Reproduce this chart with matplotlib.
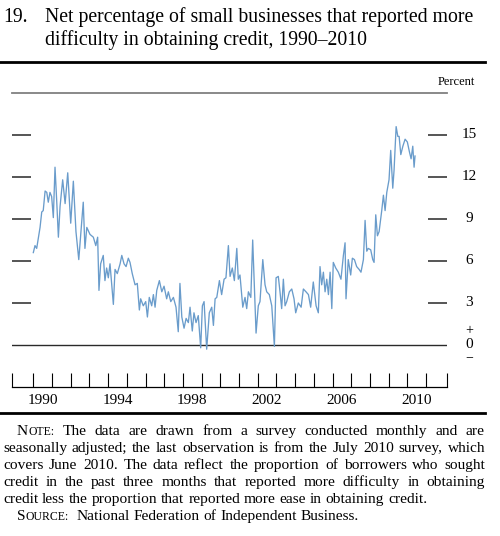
import matplotlib
matplotlib.use('Agg')
import matplotlib.pyplot as plt
from matplotlib.lines import Line2D
from matplotlib.transforms import blended_transform_factory

# monthly survey readings (decimal year, net percent)
dates = [1990.00, 1990.09, 1990.18, 1990.36, 1990.45, 1990.53, 1990.63, 1990.72, 1990.80, 1990.89,
         1990.98, 1991.07, 1991.16, 1991.25, 1991.34, 1991.43, 1991.57, 1991.70, 1991.84, 1992.00,
         1992.14, 1992.28, 1992.43, 1992.53, 1992.67, 1992.76, 1992.86, 1993.03, 1993.21, 1993.34,
         1993.44, 1993.51, 1993.60, 1993.74, 1993.83, 1993.92, 1994.01, 1994.10, 1994.28, 1994.37,
         1994.49, 1994.64, 1994.73, 1994.85, 1994.96, 1995.08, 1995.17, 1995.29, 1995.44, 1995.56,
         1995.67, 1995.74, 1995.88, 1996.01, 1996.10, 1996.20, 1996.33, 1996.42, 1996.51, 1996.60,
         1996.74, 1996.87, 1996.99, 1997.13, 1997.22, 1997.35, 1997.49, 1997.63, 1997.75, 1997.84,
         1997.94, 1998.06, 1998.17, 1998.29, 1998.38, 1998.50, 1998.59, 1998.70, 1998.82, 1998.95,
         1999.04, 1999.13, 1999.27, 1999.41, 1999.54, 1999.63, 1999.72, 1999.81, 1999.95, 2000.07,
         2000.20, 2000.30, 2000.43, 2000.52, 2000.64, 2000.75, 2000.88, 2000.96, 2001.05, 2001.20,
         2001.32, 2001.41, 2001.50, 2001.63, 2001.73, 2001.80, 2001.91, 2002.03, 2002.12, 2002.27,
         2002.39, 2002.48, 2002.62, 2002.75, 2002.89, 2002.98, 2003.10, 2003.19, 2003.28, 2003.37,
         2003.46, 2003.55, 2003.69, 2003.82, 2003.94, 2004.03, 2004.17, 2004.32, 2004.44, 2004.58,
         2004.71, 2004.83, 2004.97, 2005.12, 2005.24, 2005.33, 2005.42, 2005.51, 2005.60, 2005.69,
         2005.78, 2005.87, 2005.96, 2006.04, 2006.17, 2006.31, 2006.45, 2006.58, 2006.67, 2006.72,
         2006.84, 2006.97, 2007.06, 2007.17, 2007.29, 2007.42, 2007.52, 2007.65, 2007.74, 2007.83,
         2007.91, 2008.04, 2008.15, 2008.22, 2008.31, 2008.40, 2008.49, 2008.63, 2008.72, 2008.81,
         2008.90, 2009.02, 2009.11, 2009.22, 2009.29, 2009.40, 2009.49, 2009.56, 2009.65, 2009.76,
         2009.88, 2010.00, 2010.11, 2010.20, 2010.29, 2010.36, 2010.41]
values = [6.6, 7.1, 6.9, 8.4, 9.5, 9.6, 11.0, 10.9, 10.2, 10.9,
          10.6, 9.1, 12.7, 10.3, 7.7, 9.9, 11.8, 10.1, 12.3, 8.7,
          11.7, 8.1, 6.1, 7.8, 10.2, 6.9, 8.4, 7.9, 7.7, 7.1,
          7.7, 3.9, 5.8, 6.4, 4.6, 5.5, 4.8, 5.8, 2.9, 5.4,
          5.1, 5.8, 6.4, 5.8, 5.6, 6.2, 5.9, 5.1, 4.3, 4.4,
          2.5, 3.3, 2.8, 3.1, 2.0, 3.4, 2.8, 3.6, 2.7, 3.9,
          4.6, 3.8, 4.2, 3.3, 3.8, 3.1, 3.4, 2.7, 0.95, 4.4,
          2.0, 1.2, 1.9, 1.6, 2.7, 1.0, 2.3, 1.6, 2.1, -0.2,
          2.8, 3.1, -0.3, 2.3, 2.7, 1.4, 3.3, 3.4, 4.6, 3.6,
          4.7, 4.8, 7.1, 4.9, 5.5, 4.6, 6.9, 4.7, 5.0, 2.7,
          3.4, 2.6, 3.8, 3.4, 7.5, 4.9, 0.85, 2.8, 3.1, 6.1,
          4.3, 3.8, 3.6, 2.8, -0.1, 4.8, 4.9, 3.8, 2.6, 4.7,
          2.8, 3.1, 3.8, 4.0, 3.3, 2.3, 3.0, 2.7, 4.0, 3.8,
          3.6, 2.7, 4.5, 2.8, 2.3, 5.6, 4.3, 5.2, 3.8, 4.7,
          3.6, 5.2, 2.6, 5.9, 5.5, 5.2, 4.7, 6.4, 7.3, 3.3,
          6.1, 5.0, 6.2, 6.1, 5.6, 5.4, 5.2, 6.1, 8.9, 6.7,
          6.9, 6.8, 6.1, 5.9, 9.3, 7.8, 8.1, 9.6, 10.7, 9.6,
          10.9, 11.8, 13.9, 11.2, 12.5, 15.6, 14.9, 14.9, 13.6, 14.2,
          14.7, 14.5, 13.8, 13.3, 14.2, 12.7, 13.5]

y_ticks = [3, 6, 9, 12, 15]
year_ticks = list(range(1990, 2012))
label_years = [1990, 1994, 1998, 2002, 2006, 2010]

TITLE_1 = "Net percentage of small businesses that reported more"
TITLE_2 = "difficulty in obtaining credit, 1990\u20132010"

NOTE_LINES = [
    ([[("N", 1.0), ("OTE:", 0.76)], "The", "data", "are", "drawn", "from", "a", "survey",
      "conducted", "monthly", "and", "are"], 17, True),
    ("seasonally adjusted; the last observation is from the July 2010 survey, which".split(), 3, True),
    ("covers June 2010. The data reflect the proportion of borrowers who sought".split(), 3, True),
    ("credit in the past three months that reported more difficulty in obtaining".split(), 3, True),
    ("credit less the proportion that reported more ease in obtaining credit.".split(), 3, False),
    ([[("S", 1.0), ("OURCE:", 0.76)], "", "National", "Federation", "of", "Independent",
      "Business."], 17, False),
]

W, H = 500, 536
SERIF = 'Liberation Serif'
LINE_COLOR = '#6a9ccb'
X_LEFT, X_RIGHT = 1988.86, 2012.12
TICK_LEN = 1.02  # years, length of the short horizontal grid ticks

plt.rcParams['font.family'] = SERIF


def fx(px):
    return px / W


def fy(py):
    return 1 - py / H


fig = plt.figure(figsize=(W / 100, H / 100), dpi=100)
ax = fig.add_axes([fx(12), fy(387), 435 / W, 294 / H])
ax.set_xlim(X_LEFT, X_RIGHT)
ax.set_ylim(-3, 18)

ax.axhline(18, color='#808080', lw=1.3, clip_on=False)
ax.axhline(0, color='#2a2a2a', lw=1.0)
for v in y_ticks:
    ax.hlines(v, X_LEFT, X_LEFT + TICK_LEN, color='#555555', lw=1.4)
    ax.hlines(v, X_RIGHT - TICK_LEN, X_RIGHT, color='#555555', lw=1.4)
ax.plot(dates, values, color=LINE_COLOR, lw=0.95, clip_on=False, zorder=3)

for s in ['left', 'right', 'top']:
    ax.spines[s].set_visible(False)
ax.spines['bottom'].set_linewidth(0.9)
ax.set_yticks([])
ax.set_xticks(year_ticks + [X_LEFT, X_RIGHT])
ax.set_xticklabels([])
ax.tick_params(axis='x', which='major', direction='in', length=10, width=0.8)
ax.set_xticks([y + 0.5 for y in label_years], minor=True)
ax.set_xticklabels([str(y) for y in label_years], minor=True, fontsize=11)
ax.tick_params(axis='x', which='minor', length=0, pad=5)

# right-hand scale labels
trans = blended_transform_factory(fig.transFigure, ax.transData)
for v in y_ticks:
    ax.text(fx(469), v, str(v), transform=trans, ha='center', va='center', fontsize=11, clip_on=False)
ax.text(fx(469), 0, "0", transform=trans, ha='center', va='center', fontsize=11, clip_on=False)
ax.text(fx(469), 1.05, "+", transform=trans, ha='center', va='center', fontsize=10, clip_on=False)
ax.text(fx(469), -0.9, "\u2212", transform=trans, ha='center', va='center', fontsize=10, clip_on=False)
fig.text(fx(456), fy(82), "Percent", ha='center', va='center', fontsize=9)

# title block
fig.text(fx(3), fy(17), "19.", va='center', fontsize=14.2)
fig.text(fx(45), fy(17), TITLE_1, va='center', fontsize=14.2)
fig.text(fx(45), fy(40), TITLE_2, va='center', fontsize=14.2)
fig.add_artist(Line2D([0, fx(485)], [fy(62), fy(62)], color='black', lw=2.0))
fig.add_artist(Line2D([0, fx(485)], [fy(413), fy(413)], color='black', lw=2.0))

# note block, justified by hand
NOTE_SIZE = 11.1
renderer = fig.canvas.get_renderer()


def put_line(words, x0, x1, ypx, justify):
    groups = []
    for w in words:
        pieces = w if isinstance(w, list) else [(w, 1.0)]
        arts = []
        width = 0
        for txt, scale in pieces:
            t = fig.text(0, fy(ypx), txt, fontsize=NOTE_SIZE * scale, va='baseline')
            wpx = t.get_window_extent(renderer).width if txt else 0
            arts.append((t, wpx))
            width += wpx
        groups.append((arts, width))
    total = sum(g[1] for g in groups)
    if justify and len(groups) > 1:
        gap = (x1 - x0 - total) / (len(groups) - 1)
    else:
        gap = NOTE_SIZE * 0.25 * 100 / 72
    x = x0
    for arts, width in groups:
        for t, wpx in arts:
            t.set_x(fx(x))
            x += wpx
        x += gap


for i, (words, indent, justify) in enumerate(NOTE_LINES):
    put_line(words, indent, 485, 435 + i * 17, justify)

fig.savefig('out.png', dpi=100)
